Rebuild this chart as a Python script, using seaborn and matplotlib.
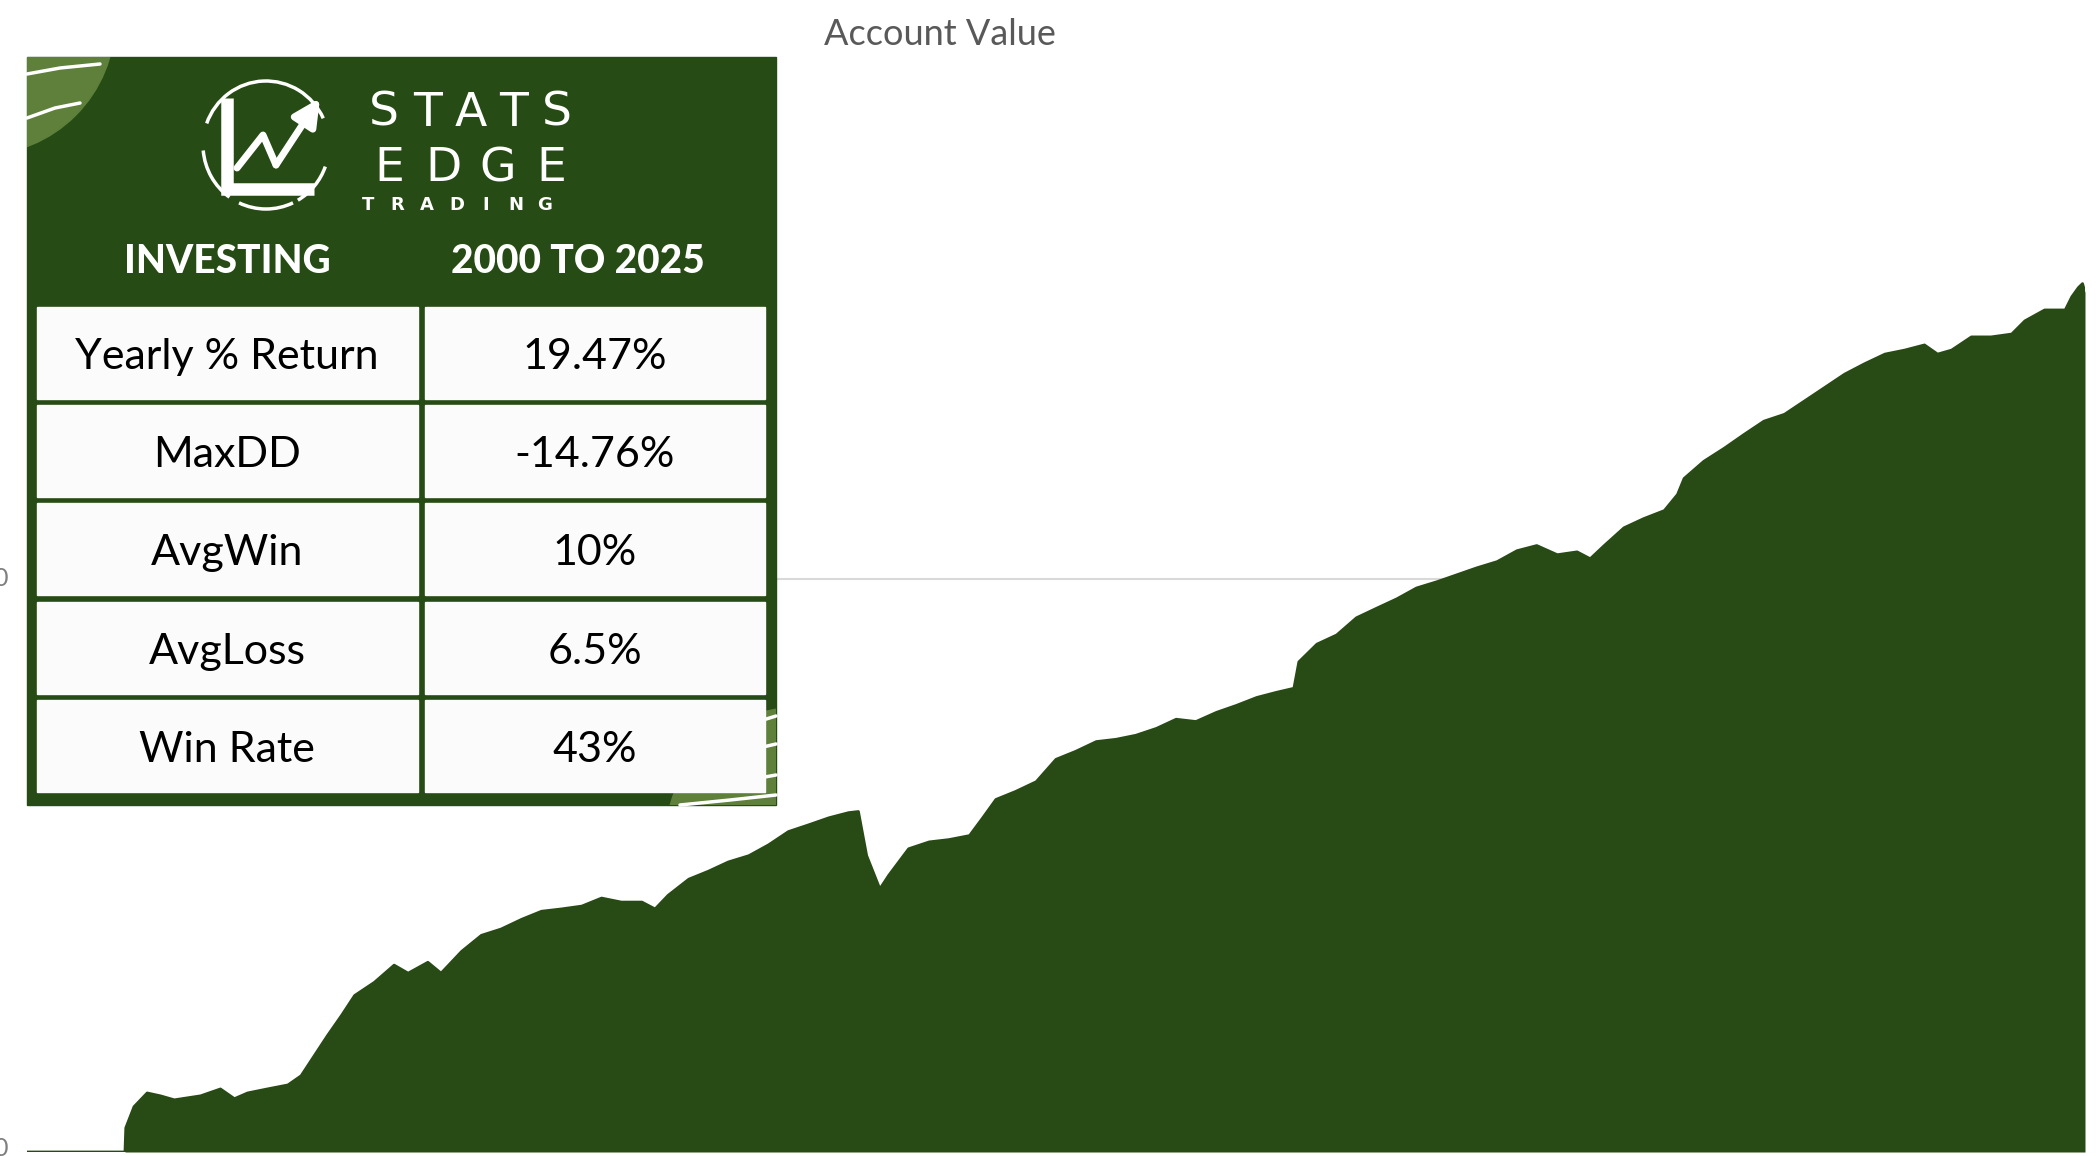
import numpy as np
import pandas as pd
import matplotlib
matplotlib.use("Agg")
import matplotlib.pyplot as plt
from matplotlib.patches import Rectangle, Circle, Arc
import seaborn as sns

# account value curve (1.0 = the grey gridline level)
years = [2000.00, 2001.19, 2001.20, 2001.30, 2001.46, 2001.62, 2001.79, 2002.11, 2002.35,
         2002.52, 2002.68, 2002.92, 2003.17, 2003.33, 2003.49, 2003.65, 2003.82, 2003.98,
         2004.22, 2004.46, 2004.63, 2004.87, 2005.03, 2005.28, 2005.52, 2005.76, 2006.01,
         2006.25, 2006.49, 2006.74, 2006.98, 2007.22, 2007.47, 2007.63, 2007.79, 2008.04,
         2008.28, 2008.52, 2008.77, 2009.01, 2009.25, 2009.50, 2009.74, 2009.98, 2010.10,
         2010.20, 2010.36, 2010.47, 2010.71, 2010.96, 2011.20, 2011.45, 2011.61, 2011.77,
         2012.01, 2012.26, 2012.50, 2012.74, 2012.99, 2013.23, 2013.47, 2013.72, 2013.96,
         2014.20, 2014.45, 2014.69, 2014.94, 2015.18, 2015.39, 2015.45, 2015.67, 2015.91,
         2016.15, 2016.40, 2016.64, 2016.88, 2017.13, 2017.37, 2017.61, 2017.86, 2018.10,
         2018.34, 2018.59, 2018.83, 2018.99, 2019.16, 2019.40, 2019.64, 2019.89, 2020.05,
         2020.13, 2020.37, 2020.62, 2020.86, 2021.10, 2021.35, 2021.59, 2021.83, 2022.08,
         2022.32, 2022.57, 2022.81, 2023.05, 2023.21, 2023.38, 2023.62, 2023.86, 2024.11,
         2024.27, 2024.51, 2024.76, 2024.84, 2024.92, 2024.97, 2025.00]
account_value = [0.000, 0.000, 0.042, 0.079, 0.103, 0.098, 0.091, 0.098, 0.110,
                 0.093, 0.103, 0.110, 0.117, 0.133, 0.168, 0.203, 0.238, 0.273,
                 0.296, 0.326, 0.312, 0.331, 0.312, 0.350, 0.378, 0.389, 0.406,
                 0.420, 0.424, 0.429, 0.443, 0.436, 0.436, 0.424, 0.448, 0.476,
                 0.490, 0.506, 0.517, 0.536, 0.559, 0.571, 0.583, 0.592, 0.594,
                 0.517, 0.459, 0.483, 0.529, 0.541, 0.545, 0.552, 0.583, 0.615,
                 0.629, 0.646, 0.685, 0.699, 0.716, 0.720, 0.727, 0.739, 0.755,
                 0.751, 0.767, 0.779, 0.793, 0.802, 0.809, 0.855, 0.886, 0.902,
                 0.932, 0.949, 0.965, 0.984, 0.995, 1.007, 1.019, 1.030, 1.049,
                 1.058, 1.042, 1.047, 1.035, 1.058, 1.089, 1.105, 1.119, 1.147,
                 1.175, 1.205, 1.228, 1.252, 1.275, 1.287, 1.310, 1.333, 1.357,
                 1.375, 1.392, 1.399, 1.408, 1.392, 1.399, 1.422, 1.422, 1.427,
                 1.450, 1.469, 1.469, 1.492, 1.508, 1.515, 1.500]

# stats table
header = ["INVESTING", "2000 TO 2025"]
metrics = ["Yearly % Return", "MaxDD", "AvgWin", "AvgLoss", "Win Rate"]
metric_values = ["19.47%", "-14.76%", "10%", "6.5%", "43%"]

GREEN = "#284a15"
PANEL = "#264b14"
LIGHT = "#5f803a"

df = pd.DataFrame({"year": years, "value": account_value})

sns.set_theme(style="white")
plt.rcParams["font.family"] = ["Lato", "DejaVu Sans"]

fig = plt.figure(figsize=(20.96, 11.56), dpi=100)
W, H = 2096, 1156

# main area chart
ax = fig.add_axes([27 / W, 4 / H, (2085 - 27) / W, 1112 / H])
ax.axhline(1, color="#d9d9d9", lw=1.5, zorder=0)
ax.fill_between(df["year"], df["value"], color=GREEN, lw=0, zorder=2)
sns.lineplot(data=df, x="year", y="value", ax=ax, color=GREEN, lw=2,
             estimator=None, sort=False, zorder=3)
ax.set_xlim(2000, 2025)
ax.set_ylim(0, 1.94)
ax.set_xticks([])
ax.set_yticks([])
ax.set_xlabel("")
ax.set_ylabel("")
for s in ax.spines.values():
    s.set_visible(False)

# overlay in pixel coordinates for the title and the stats panel
ov = fig.add_axes([0, 0, 1, 1], zorder=5)
ov.set_xlim(0, W)
ov.set_ylim(H, 0)
ov.axis("off")
ov.patch.set_alpha(0)

ov.text(940, 45, "Account Value", ha="center", va="baseline", fontsize=26,
        color="#595959")
# y tick labels, cut by the left edge as in the original
ov.text(0, 579, "0", ha="center", va="center", fontsize=18, color="#7f7f7f")
ov.text(0, 1148, "0", ha="center", va="center", fontsize=18, color="#7f7f7f")

panel = Rectangle((27, 57), 749, 748, color=PANEL, zorder=1)
ov.add_patch(panel)
clip_path, clip_tr = panel.get_path(), panel.get_transform()

# corner decorations
c1 = Circle((-20, 20), 135, color=LIGHT, zorder=2)
ov.add_patch(c1)
c1.set_clip_path(clip_path, clip_tr)
c2 = Circle((800, 842), 135, color=LIGHT, zorder=2)
ov.add_patch(c2)
c2.set_clip_path(clip_path, clip_tr)
for pts in ([(27, 74), (60, 68), (100, 64)], [(27, 118), (55, 108), (80, 103)]):
    xs, ys = zip(*pts)
    ln, = ov.plot(xs, ys, color="white", lw=2.5, zorder=3)
    ln.set_clip_path(c1.get_path(), c1.get_transform())
for pts in ([(750, 724), (776, 716)], [(750, 750), (776, 744)], [(748, 780), (776, 775)],
            [(680, 805), (730, 800), (776, 795)]):
    xs, ys = zip(*pts)
    ln, = ov.plot(xs, ys, color="white", lw=2.5, zorder=3)
    ln.set_clip_path(c2.get_path(), c2.get_transform())

# logo
for t1, t2 in [(200, 335), (20, 60), (65, 115), (125, 175)]:
    ov.add_patch(Arc((266, 145), 126, 128, theta1=t1, theta2=t2, color="white", lw=2.5, zorder=4))
ov.plot([227, 227, 314], [98, 189, 189], color="white", lw=9, solid_capstyle="butt",
        solid_joinstyle="miter", zorder=4)
ov.plot([237, 263, 276], [168, 135, 165], color="white", lw=5, zorder=4)
ov.annotate("", xy=(320, 98), xytext=(276, 165),
            arrowprops=dict(arrowstyle="-|>", lw=5, color="white", mutation_scale=40,
                            shrinkA=0, shrinkB=0), zorder=4)
for i, ch in enumerate("STATS"):
    ov.text(362 + (i + 0.5) * 43.4, 126, ch, ha="center", va="baseline", fontsize=34,
            color="white", family="DejaVu Sans", zorder=4)
for i, ch in enumerate("EDGE"):
    ov.text(362 + (i + 0.5) * 54.2, 181, ch, ha="center", va="baseline", fontsize=34,
            color="white", family="DejaVu Sans", zorder=4)
for i, ch in enumerate("TRADING"):
    ov.text(368 + i * 29.5, 210, ch, ha="center", va="baseline", fontsize=13,
            color="white", fontweight="bold", family="DejaVu Sans", zorder=4)

# header row
ov.text(227, 273, header[0], ha="center", va="baseline", fontsize=28,
        fontweight="black", color="white", zorder=4)
ov.text(578, 273, header[1], ha="center", va="baseline", fontsize=28,
        fontweight="black", color="white", zorder=4)

# table cells
row_tops = [307, 405, 503, 602, 700]
for top, name, val in zip(row_tops, metrics, metric_values):
    ov.add_patch(Rectangle((37, top), 381, 92, color="#fbfbfb", zorder=3))
    ov.add_patch(Rectangle((425, top), 340, 92, color="#fbfbfb", zorder=3))
    ov.text(227, top + 50, name, ha="center", va="center", fontsize=31,
            color="black", zorder=4)
    ov.text(595, top + 50, val, ha="center", va="center", fontsize=31,
            color="black", zorder=4)

fig.savefig("out.png", dpi=100)
